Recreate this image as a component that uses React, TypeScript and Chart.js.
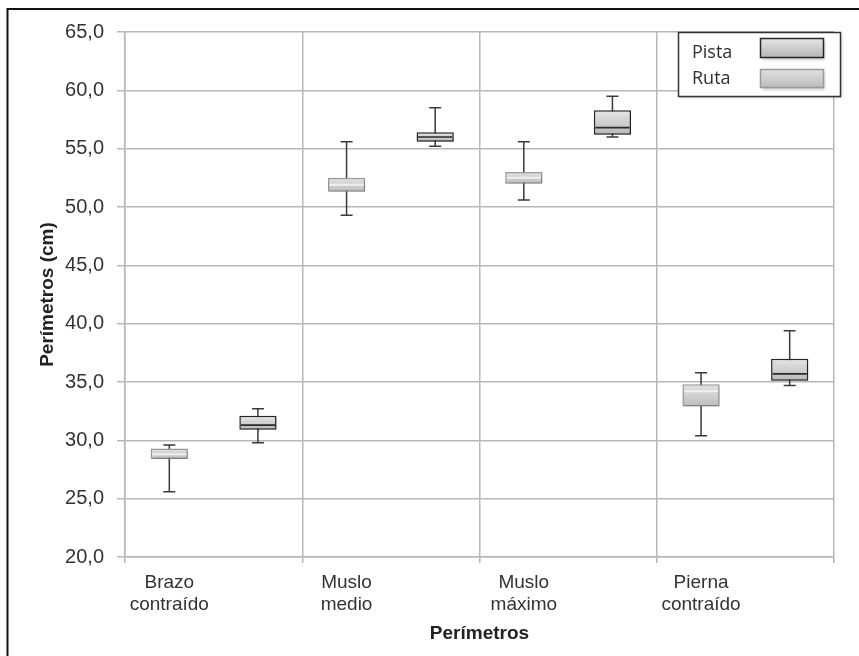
import React, { useEffect, useRef } from "react";
import { Chart, registerables } from "chart.js";
Chart.register(...registerables);

const categories: string[][] = [
  ["Brazo", "contraído"],
  ["Muslo", "medio"],
  ["Muslo", "máximo"],
  ["Pierna", "contraído"],
];
const seriesNames = ["Ruta", "Pista"];

const rutaMin = [25.6, 49.3, 50.6, 30.4];
const rutaQ1 = [28.4, 51.3, 52.0, 32.9];
const rutaMedian = [28.8, 51.9, 52.5, 34.2];
const rutaQ3 = [29.3, 52.5, 53.0, 34.8];
const rutaMax = [29.6, 55.6, 55.6, 35.8];

const pistaMin = [29.8, 55.2, 56.0, 34.7];
const pistaQ1 = [30.9, 55.6, 56.2, 35.1];
const pistaMedian = [31.3, 56.0, 56.8, 35.7];
const pistaQ3 = [32.1, 56.4, 58.3, 37.0];
const pistaMax = [32.7, 58.5, 59.5, 39.4];

const yMin = 20;
const yMax = 65;
const yStep = 5;
const xTitle = "Perímetros";
const yTitle = "Perímetros (cm)";

const W = 859;
const H = 656;

// two slots per category: Ruta (left) then Pista (right)
const slotLabels = categories.flatMap((c) => [c, ""]);
const slot = (arr: number[], which: number) =>
  slotLabels.map((_, s) => (s % 2 === which ? arr[Math.floor(s / 2)] : null));
const slotRange = (lo: number[], hi: number[], which: number) =>
  slotLabels.map((_, s) =>
    s % 2 === which ? [lo[Math.floor(s / 2)], hi[Math.floor(s / 2)]] : null
  );

const styles: any = {
  Ruta: {
    top: "#e2e2e2",
    bottom: "#bdbdbd",
    border: "#9a9a9a",
    median: "#f0f0f0",
    medianWidth: 2,
  },
  Pista: {
    top: "#e6e6e6",
    bottom: "#b8b8b8",
    border: "#262626",
    median: "#2a2a2a",
    medianWidth: 1.6,
  },
};

function makeGradient(ctx: CanvasRenderingContext2D, y0: number, y1: number, st: any) {
  if (!isFinite(y0) || !isFinite(y1) || y0 === y1) return st.bottom;
  const g = ctx.createLinearGradient(0, y0, 0, y1);
  g.addColorStop(0, st.top);
  g.addColorStop(1, st.bottom);
  return g;
}

const boxPlugin = {
  id: "boxExtras",
  beforeDraw(chart: any) {
    const ctx = chart.ctx;
    ctx.save();
    ctx.fillStyle = "#ffffff";
    ctx.fillRect(0, 0, chart.width, chart.height);
    ctx.restore();
  },
  beforeDatasetsDraw(chart: any) {
    const ctx = chart.ctx;
    const yS = chart.scales.y;
    chart.data.datasets.forEach((ds: any, di: number) => {
      const meta = chart.getDatasetMeta(di);
      meta.data.forEach((el: any, i: number) => {
        if (ds.data[i] == null) return;
        const x = el.x;
        const yLo = yS.getPixelForValue(ds.whiskerMin[i]);
        const yHi = yS.getPixelForValue(ds.whiskerMax[i]);
        ctx.save();
        ctx.strokeStyle = "#3a3a3a";
        ctx.lineWidth = 1.5;
        ctx.beginPath();
        ctx.moveTo(x, yLo);
        ctx.lineTo(x, yHi);
        ctx.moveTo(x - 6, yLo);
        ctx.lineTo(x + 6, yLo);
        ctx.moveTo(x - 6, yHi);
        ctx.lineTo(x + 6, yHi);
        ctx.stroke();
        ctx.restore();
      });
    });
  },
  beforeDatasetDraw(chart: any) {
    const ctx = chart.ctx;
    ctx.save();
    ctx.shadowColor = "rgba(0,0,0,0.25)";
    ctx.shadowBlur = 3;
    ctx.shadowOffsetX = 1;
    ctx.shadowOffsetY = 2;
  },
  afterDatasetDraw(chart: any) {
    chart.ctx.restore();
  },
  afterDatasetsDraw(chart: any) {
    const ctx = chart.ctx;
    const yS = chart.scales.y;
    chart.data.datasets.forEach((ds: any, di: number) => {
      const meta = chart.getDatasetMeta(di);
      const st = styles[ds.label];
      meta.data.forEach((el: any, i: number) => {
        if (ds.data[i] == null) return;
        const half = el.width / 2;
        const y = yS.getPixelForValue(ds.median[i]);
        ctx.save();
        ctx.strokeStyle = st.median;
        ctx.lineWidth = st.medianWidth;
        ctx.beginPath();
        ctx.moveTo(el.x - half + 1.5, y);
        ctx.lineTo(el.x + half - 1.5, y);
        ctx.stroke();
        ctx.restore();
      });
    });
  },
  afterDraw(chart: any) {
    const ctx = chart.ctx;
    // legend
    ctx.save();
    ctx.shadowColor = "rgba(0,0,0,0.2)";
    ctx.shadowBlur = 2;
    ctx.shadowOffsetX = 1;
    ctx.shadowOffsetY = 1;
    ctx.fillStyle = "#ffffff";
    ctx.fillRect(678.5, 32.5, 162, 64);
    ctx.restore();
    ctx.save();
    ctx.strokeStyle = "#333333";
    ctx.lineWidth = 1.5;
    ctx.strokeRect(678.5, 32.5, 162, 64);
    const order = ["Pista", "Ruta"];
    const rows = [
      { ty: 53, ry: 38, rh: 19 },
      { ty: 79, ry: 69, rh: 18 },
    ];
    order.forEach((name, k) => {
      const st = styles[name];
      const r = rows[k];
      ctx.font = '18px "Open Sans", "Liberation Sans", sans-serif';
      ctx.fillStyle = "#2e2e2e";
      ctx.textAlign = "left";
      ctx.textBaseline = "middle";
      ctx.fillText(name, 692, r.ty);
      ctx.save();
      ctx.shadowColor = "rgba(0,0,0,0.25)";
      ctx.shadowBlur = 3;
      ctx.shadowOffsetX = 1;
      ctx.shadowOffsetY = 2;
      ctx.fillStyle = makeGradient(ctx, r.ry, r.ry + r.rh, st);
      ctx.fillRect(760.5, r.ry + 0.5, 63, r.rh);
      ctx.restore();
      ctx.strokeStyle = st.border;
      ctx.lineWidth = 1.5;
      ctx.strokeRect(760.5, r.ry + 0.5, 63, r.rh);
    });
    ctx.restore();
    // outer frame
    ctx.save();
    ctx.strokeStyle = "#111111";
    ctx.lineWidth = 2;
    ctx.beginPath();
    ctx.moveTo(7.5, H);
    ctx.lineTo(7.5, 9);
    ctx.lineTo(W, 9);
    ctx.stroke();
    ctx.restore();
  },
};

export default function App() {
  const ref = useRef<HTMLCanvasElement | null>(null);
  useEffect(() => {
    if (!ref.current) return;
    const mkDataset = (name: string, which: number, q1: number[], q3: number[], mn: number[], md: number[], mx: number[]) => {
      const st = styles[name];
      return {
        label: name,
        data: slotRange(q1, q3, which),
        whiskerMin: slot(mn, which),
        whiskerMax: slot(mx, which),
        median: slot(md, which),
        backgroundColor: (c: any) => {
          const raw = c.raw;
          const chart = c.chart;
          if (!raw || !chart.scales || !chart.scales.y) return st.bottom;
          const y0 = chart.scales.y.getPixelForValue(raw[1]);
          const y1 = chart.scales.y.getPixelForValue(raw[0]);
          return makeGradient(chart.ctx, y0, y1, st);
        },
        borderColor: st.border,
        borderWidth: 1.5,
        borderSkipped: false,
        grouped: false,
        categoryPercentage: 1,
        barPercentage: 0.42,
      };
    };
    const chart = new Chart(ref.current, {
      type: "bar",
      data: {
        labels: slotLabels as any,
        datasets: [
          mkDataset(seriesNames[0], 0, rutaQ1, rutaQ3, rutaMin, rutaMedian, rutaMax),
          mkDataset(seriesNames[1], 1, pistaQ1, pistaQ3, pistaMin, pistaMedian, pistaMax),
        ] as any,
      },
      options: {
        animation: false,
        responsive: false,
        devicePixelRatio: 1,
        layout: { padding: { top: 32, right: 25, left: 0, bottom: 0 } },
        plugins: {
          legend: { display: false },
          tooltip: { enabled: false },
        },
        scales: {
          x: {
            offset: true,
            grid: {
              offset: true,
              color: (c: any) =>
                c.index === undefined || c.index % 2 === 0 ? "#b8b8b8" : "rgba(0,0,0,0)",
              lineWidth: 1.5,
              tickLength: 6,
            },
            border: { display: true, color: "#b8b8b8", width: 1.5 },
            ticks: {
              autoSkip: false,
              maxRotation: 0,
              minRotation: 0,
              padding: 9,
              color: "#333333",
              font: { family: '"Liberation Sans", Arial, sans-serif', size: 19, lineHeight: 1.16 },
            },
            title: {
              display: true,
              text: xTitle,
              color: "#222222",
              font: { family: '"Liberation Sans", Arial, sans-serif', size: 19, weight: "bold", lineHeight: 1.2 },
              padding: { top: 0, bottom: 10.6 },
            },
            afterFit: (s: any) => {
              s.height = 99;
            },
          },
          y: {
            min: yMin,
            max: yMax,
            grid: { color: "#b8b8b8", lineWidth: 1.5, tickLength: 8 },
            border: { display: true, color: "#b8b8b8", width: 1.5 },
            ticks: {
              stepSize: yStep,
              padding: 13,
              color: "#333333",
              font: { family: '"Liberation Sans", Arial, sans-serif', size: 20 },
              callback: (v: any) => Number(v).toFixed(1).replace(".", ","),
            },
            title: {
              display: true,
              text: yTitle,
              color: "#222222",
              font: { family: '"Liberation Sans", Arial, sans-serif', size: 19, weight: "bold", lineHeight: 1.2 },
              padding: { top: 36, bottom: 0 },
            },
            afterFit: (s: any) => {
              s.width = 125;
            },
          },
        },
      } as any,
      plugins: [boxPlugin],
    });
    return () => chart.destroy();
  }, []);
  return (
    <div style={{ position: "absolute", left: 0, top: 0, width: W, height: H }}>
      <canvas ref={ref} width={W} height={H} style={{ width: W, height: H, display: "block" }} />
    </div>
  );
}
